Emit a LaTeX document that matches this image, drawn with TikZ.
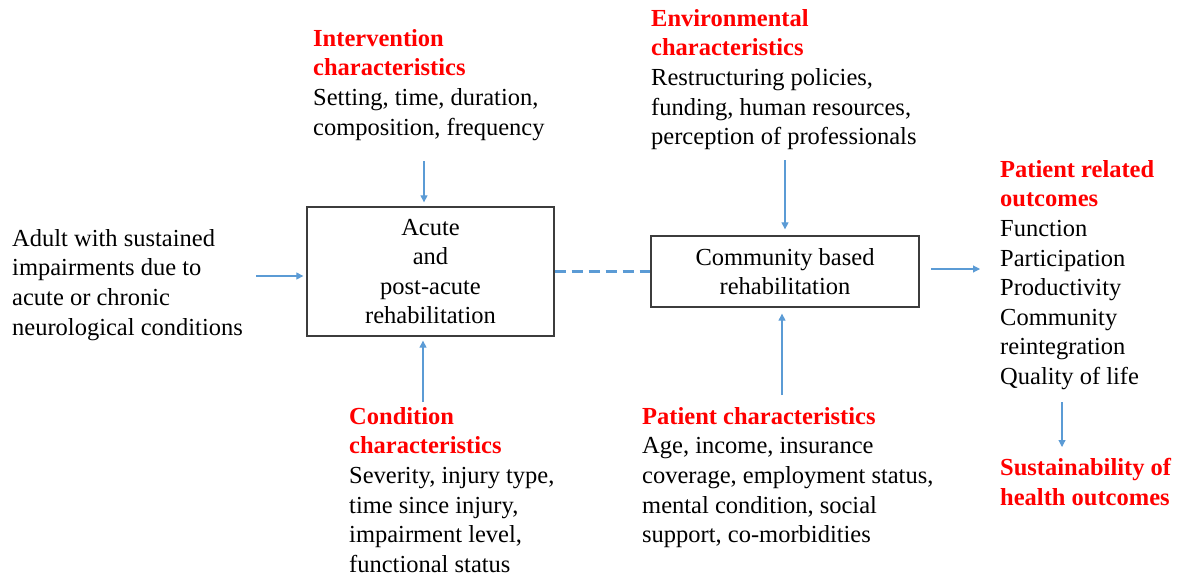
\documentclass[tikz,border=0pt]{standalone}
\usepackage{fontspec}
\setmainfont{Liberation Serif}
\usetikzlibrary{arrows.meta}
\definecolor{arrblue}{RGB}{91,155,213}
\definecolor{hred}{RGB}{255,0,0}
\definecolor{boxgray}{RGB}{60,60,60}
\tikzset{
  txt/.style={anchor=north west, inner sep=0pt, align=left, font=\fontsize{24.5}{29.6}\selectfont},
  rbox/.style={draw=boxgray, line width=1.3pt, inner sep=0pt, align=center, font=\fontsize{24.5}{29.6}\selectfont},
  arr/.style={draw=arrblue, line width=1.1pt, -{Triangle[width=7pt,length=7pt]}},
  dashline/.style={draw=arrblue, line width=3pt, dash pattern=on 11pt off 6pt}
}
\begin{document}
\begin{tikzpicture}[x=1pt,y=-1pt]
\useasboundingbox (0,0) rectangle (1182,579);
% boxes
\node[rbox, minimum width=247pt, minimum height=129pt] (box1) at (430.5,271.5) {Acute\\and\\post-acute\\rehabilitation};
\node[rbox, minimum width=268pt, minimum height=71pt] (box2) at (785,271.5) {Community based\\rehabilitation};
% texts
\node[txt] (adult) at (12,229) {Adult with sustained\\impairments due to\\acute or chronic\\neurological conditions};
\node[txt] (interv) at (313,29) {\textcolor{hred}{\bfseries Intervention}\\\textcolor{hred}{\bfseries characteristics}\\Setting, time, duration,\\composition, frequency};
\node[txt] (env) at (651,9) {\textcolor{hred}{\bfseries Environmental}\\\textcolor{hred}{\bfseries characteristics}\\Restructuring policies,\\funding, human resources,\\perception of professionals};
\node[txt] (outc) at (1000,160) {\textcolor{hred}{\bfseries Patient related}\\\textcolor{hred}{\bfseries outcomes}\\Function\\Participation\\Productivity\\Community\\reintegration\\Quality of life};
\node[txt] (sust) at (1000,458) {\textcolor{hred}{\bfseries Sustainability of}\\\textcolor{hred}{\bfseries health outcomes}};
\node[txt] (cond) at (349,407) {\textcolor{hred}{\bfseries Condition}\\\textcolor{hred}{\bfseries characteristics}\\Severity, injury type,\\time since injury,\\impairment level,\\functional status};
\node[txt] (pat) at (642,407) {\textcolor{hred}{\bfseries Patient characteristics}\\Age, income, insurance\\coverage, employment status,\\mental condition, social\\support, co-morbidities};
% free ends
\coordinate (cL) at (256,276);
\coordinate (cT1) at (424,161);
\coordinate (cB1) at (423,402);
\coordinate (cT2) at (785,160);
\coordinate (cB2) at (782,395);
\coordinate (cR) at (931,269);
\coordinate (cR2) at (980,269);
\coordinate (cD1) at (1062,402);
\coordinate (cD2) at (1062,447);
% connectors
\draw[arr, shorten >=3pt] (cL) -- (cL -| box1.west);
\draw[arr, shorten >=4pt] (cT1) -- (cT1 |- box1.north);
\draw[arr, shorten >=4pt] (cB1) -- (cB1 |- box1.south);
\draw[dashline] (box1.east |- 0,271) -- (box2.west |- 0,271);
\draw[arr, shorten >=6pt] (cT2) -- (cT2 |- box2.north);
\draw[arr, shorten >=6pt] (cB2) -- (cB2 |- box2.south);
\draw[arr] (cR) -- (cR2);
\draw[arr] (cD1) -- (cD2);
\end{tikzpicture}
\end{document}
